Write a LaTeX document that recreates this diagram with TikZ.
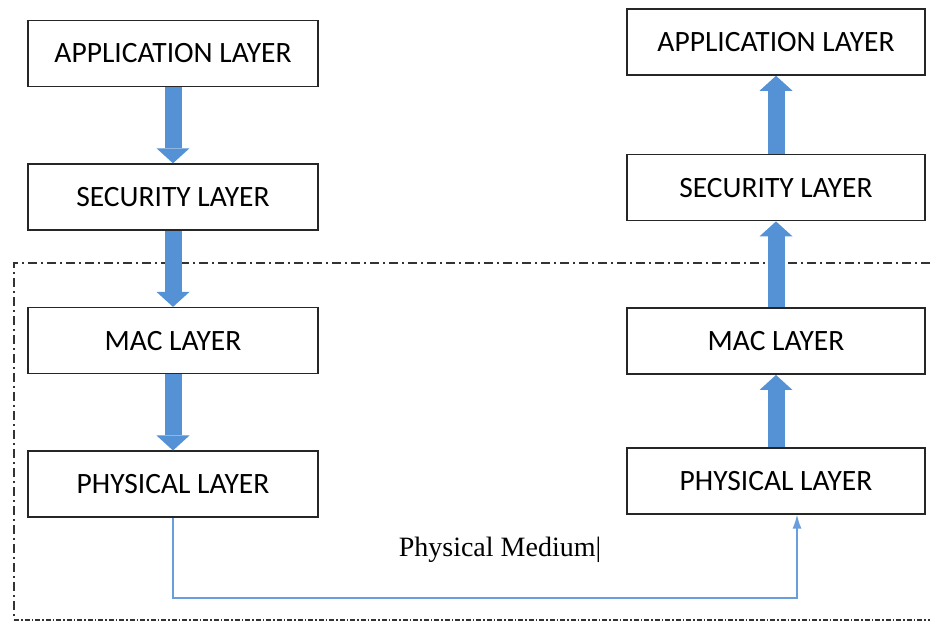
\documentclass[tikz,border=0pt]{standalone}
\usepackage{fontspec}
\setmainfont{Liberation Serif}
\newfontfamily\boxfont{Carlito}
\usetikzlibrary{arrows.meta, positioning}
\definecolor{arrowblue}{RGB}{84,145,213}
\definecolor{mediumblue}{RGB}{105,158,222}
\tikzstyle{layer} = [rectangle, draw=black!85, line width=1.6pt, fill=white,
    minimum height=66pt, inner sep=0pt, font=\boxfont\fontsize{29.5}{34}\selectfont]
\tikzstyle{leftlayer} = [layer, minimum width=290pt]
\tikzstyle{rightlayer} = [layer, minimum width=298pt]
\tikzstyle{flow} = [draw=arrowblue, line width=17pt, -{Triangle[width=33pt, length=15pt, line width=0pt]}]
\tikzstyle{medium} = [draw=mediumblue, line width=1.4pt, -{Latex[width=9pt, length=14pt]}]
\tikzstyle{frame} = [draw=black!80, line width=1.4pt, dash pattern=on 9pt off 4pt on 2pt off 4pt]
\tikzstyle{framebottom} = [draw=black!80, line width=1.4pt, dash pattern=on 5pt off 2pt on 1.5pt off 2pt]
\begin{document}
\begin{tikzpicture}[x=1pt, y=1pt]
      \useasboundingbox (0,0) rectangle (930,626);
      % Frame
      \path [frame] (930,363) -- (14,363) -- (14,6);
      \path [framebottom] (14,6) -- (930,6);
      % Sender stack
      \node [leftlayer] (lapp) at (173,572.5) {APPLICATION LAYER};
      \node [leftlayer, below=76pt of lapp] (lsec) {SECURITY LAYER};
      \node [leftlayer, below=76pt of lsec] (lmac) {MAC LAYER};
      \node [leftlayer, below=76pt of lmac] (lphys) {PHYSICAL LAYER};
      % Receiver stack
      \node [rightlayer] (rapp) at (776,584) {APPLICATION LAYER};
      \node [rightlayer, below=78pt of rapp] (rsec) {SECURITY LAYER};
      \node [rightlayer, below=86pt of rsec] (rmac) {MAC LAYER};
      \node [rightlayer, below=72pt of rmac] (rphys) {PHYSICAL LAYER};
      % Medium
      \node [font=\fontsize{28}{32}\selectfont] (mediumlabel) at (500,76) {Physical Medium|};
      \coordinate (mediumcorner) at (797,28);
      % Draw edges
      \path [flow] (lapp) -- (lsec);
      \path [flow] (lsec) -- (lmac);
      \path [flow] (lmac) -- (lphys);
      \path [flow] (rphys) -- (rmac);
      \path [flow] (rmac) -- (rsec);
      \path [flow] (rsec) -- (rapp);
      \path [medium] (lphys.south) |- (mediumcorner) -- ([xshift=21pt]rphys.south);
    \end{tikzpicture}
\end{document}
